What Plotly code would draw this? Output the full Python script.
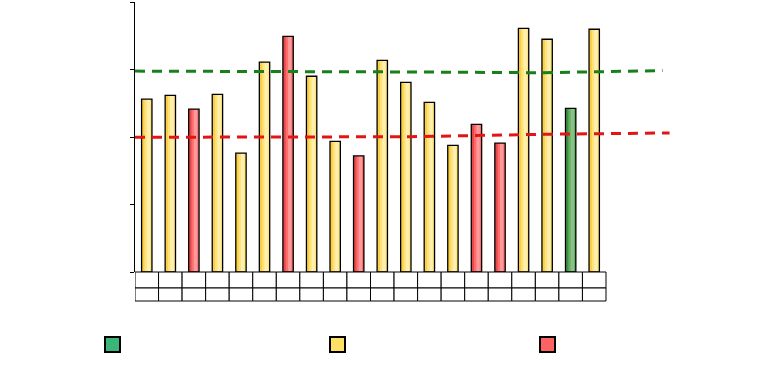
import plotly.graph_objects as go

# ---- data ----
values = [64.0, 65.4, 60.3, 65.8, 44.0, 77.7, 87.3, 72.5, 48.4, 43.0,
          78.4, 70.2, 62.8, 46.9, 54.7, 47.7, 90.2, 86.2, 60.6, 89.9]
status = ["Y", "Y", "R", "Y", "Y", "Y", "R", "Y", "Y", "R",
          "Y", "Y", "Y", "Y", "R", "R", "Y", "Y", "G", "Y"]
y_ticks = [0, 25, 50, 75, 100]

green_line_x = [-0.5, 5, 10.8, 16.8, 19, 21.9]
green_line_y = [74.4, 74.3, 74.1, 73.8, 74.2, 74.6]
red_line_x = [-0.5, 5, 11.2, 16.8, 22.2]
red_line_y = [49.9, 49.9, 50.1, 51.0, 51.5]

# ---- styling ----
W, H = 780, 367
ML, MR, MT, MB = 135, 101, 2, 95
PW, PH = W - ML - MR, H - MT - MB

palette = {
    "G": ("#3f8f3f", "#66ad66", "#86c486"),
    "Y": ("#f8cf45", "#ffe27a", "#fff0b0"),
    "R": ("#e84848", "#ff6e6e", "#ff9a9a"),
}
legend_colors = {"G": "#3bb57a", "Y": "#ffe066", "R": "#ff6262"}

x = list(range(len(values)))
BW = 0.44

fig = go.Figure()
for key in ["G", "Y", "R"]:
    vals = [v if s == key else None for v, s in zip(values, status)]
    dark, mid, light = palette[key]
    fig.add_bar(x=x, y=vals, width=BW, offset=-BW / 2, marker=dict(color=dark, line=dict(width=0)),
                showlegend=False, hoverinfo="skip")
    fig.add_bar(x=x, y=vals, width=0.32, offset=-0.10, marker=dict(color=mid, line=dict(width=0)),
                showlegend=False, hoverinfo="skip")
    fig.add_bar(x=x, y=vals, width=0.14, offset=0.0, marker=dict(color=light, line=dict(width=0)),
                showlegend=False, hoverinfo="skip")
    fig.add_bar(x=x, y=vals, width=BW, offset=-BW / 2,
                marker=dict(color="rgba(0,0,0,0)", line=dict(width=1.3, color="black")),
                showlegend=False)

fig.add_scatter(x=green_line_x, y=green_line_y, mode="lines",
                line=dict(color="#17801a", width=3, dash="10px,7px"), showlegend=False)
fig.add_scatter(x=red_line_x, y=red_line_y, mode="lines",
                line=dict(color="#e41414", width=3, dash="10px,7px"), showlegend=False)


def px_x(p):
    return (p - ML) / PW


def px_y(p):
    return (H - MB - p) / PH


shapes = []
# table grid below the axis, one column per category
for i in x:
    for top, bot in [(272, 288), (288, 301)]:
        shapes.append(dict(type="rect", xref="x", yref="paper", x0=i - 0.5, x1=i + 0.5,
                           y0=px_y(bot), y1=px_y(top), line=dict(color="black", width=1),
                           fillcolor="white", layer="above"))

# legend swatches (no text in the reference)
for key, left in [("G", 105), ("Y", 330), ("R", 540)]:
    shapes.append(dict(type="rect", xref="paper", yref="paper",
                       x0=px_x(left), x1=px_x(left + 15), y0=px_y(352), y1=px_y(337),
                       line=dict(color="black", width=2), fillcolor=legend_colors[key]))

fig.update_layout(
    width=W, height=H, margin=dict(l=ML, r=MR, t=MT, b=MB),
    paper_bgcolor="white", plot_bgcolor="white",
    barmode="overlay", shapes=shapes,
    xaxis=dict(range=[-0.5, 22.6], showgrid=False, zeroline=False, showticklabels=False,
               ticks="", showline=False),
    yaxis=dict(range=[0, 100], tickvals=y_ticks, showticklabels=False, ticks="outside",
               ticklen=4, tickcolor="black", showgrid=False, zeroline=False,
               showline=True, linecolor="black", linewidth=1),
)

fig.write_html("out.html", config={"displayModeBar": False},
               post_script="document.body.style.margin='0';document.body.style.overflow='hidden';")
